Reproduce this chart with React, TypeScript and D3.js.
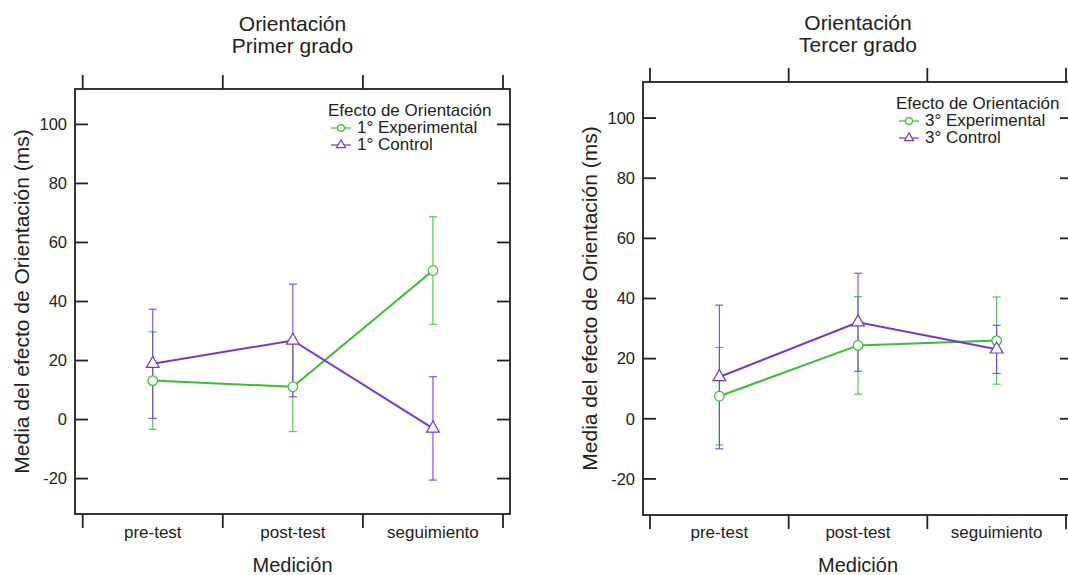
import React from "react";
import * as d3 from "d3";

const categories = ["pre-test", "post-test", "seguimiento"];
const yTicks = [-20, 0, 20, 40, 60, 80, 100];
const yDomain = [-32, 112];

const g1ExpMean = [13.2, 11.1, 50.5];
const g1ExpErr = [16.5, 15.2, 18.2];
const g1CtlMean = [18.9, 26.8, -3.0];
const g1CtlErr = [18.5, 19.1, 17.5];

const g3ExpMean = [7.5, 24.4, 26.0];
const g3ExpErr = [16.2, 16.2, 14.5];
const g3CtlMean = [13.9, 32.1, 23.1];
const g3CtlErr = [23.9, 16.3, 8.0];

const GREEN = "#3dbd35";
const PURPLE = "#7438d4";
const FONT = "'Liberation Sans', Arial, Helvetica, sans-serif";
const INK = "#222";

type Series = { name: string; mean: number[]; err: number[]; color: string; shape: "circle" | "triangle" };

type PanelProps = {
  left: number; right: number; top: number; bottom: number;
  bandStart: number; bandEnd: number;
  title1: string; title2: string; titleY: number;
  yLabelX: number;
  series: Series[];
  legendX: number; legendY: number;
};

function Marker({ shape, x, y, color, size }: { shape: string; x: number; y: number; color: string; size: number }) {
  if (shape === "circle") {
    return <circle cx={x} cy={y} r={Math.sqrt(size / Math.PI)} fill="#fff" stroke={color} strokeWidth={1.2} />;
  }
  const p = d3.symbol().type(d3.symbolTriangle).size(size)();
  return <path d={p || ""} transform={`translate(${x},${y})`} fill="#fff" stroke={color} strokeWidth={1.2} />;
}

function Panel(props: PanelProps) {
  const { left, right, top, bottom, bandStart, bandEnd, series } = props;
  const x = d3.scaleBand<string>().domain(categories).range([bandStart, bandEnd]).padding(0);
  const y = d3.scaleLinear().domain(yDomain).range([bottom, top]);
  const cx = (c: string) => (x(c) as number) + x.bandwidth() / 2;
  const bandEdges = [...categories.map((c) => x(c) as number), bandEnd];
  const line = d3.line<number>().x((_, i) => cx(categories[i])).y((d) => y(d));
  const midX = (left + right) / 2;
  const midY = (top + bottom) / 2;
  const tickLen = 13;
  return (
    <g fontFamily={FONT}>
      {/* titles */}
      <text x={midX} y={props.titleY} textAnchor="middle" fontSize={21} fill={INK}>{props.title1}</text>
      <text x={midX} y={props.titleY + 22} textAnchor="middle" fontSize={21} fill={INK}>{props.title2}</text>
      {/* frame */}
      <rect x={left} y={top} width={right - left} height={bottom - top} fill="none" stroke={INK} strokeWidth={1.8} />
      {/* y ticks */}
      {yTicks.map((t) => (
        <g key={t}>
          <line x1={left} x2={left + tickLen} y1={y(t)} y2={y(t)} stroke={INK} strokeWidth={1.8} />
          <line x1={right - tickLen} x2={right} y1={y(t)} y2={y(t)} stroke={INK} strokeWidth={1.8} />
          <text x={left - 8} y={y(t)} dy="0.35em" textAnchor="end" fontSize={16.5} fill={INK}>{t}</text>
        </g>
      ))}
      {/* x ticks top & bottom */}
      {bandEdges.map((e, i) => (
        <g key={i}>
          <line x1={e} x2={e} y1={top} y2={top - 14} stroke={INK} strokeWidth={1.8} />
          <line x1={e} x2={e} y1={bottom} y2={bottom + 14} stroke={INK} strokeWidth={1.8} />
        </g>
      ))}
      {categories.map((c) => (
        <text key={c} x={cx(c)} y={538} textAnchor="middle" fontSize={17} fill={INK}>{c}</text>
      ))}
      <text x={midX} y={572} textAnchor="middle" fontSize={20} fill={INK}>Medición</text>
      <text transform={`translate(${props.yLabelX},${midY}) rotate(-90)`} textAnchor="middle" fontSize={21} fill={INK}>
        Media del efecto de Orientación (ms)
      </text>
      {/* error bars */}
      {series.map((s) => (
        <g key={s.name + "err"}>
          {s.mean.map((m, i) => {
            const xx = cx(categories[i]);
            const y1 = y(m + s.err[i]);
            const y2 = y(m - s.err[i]);
            return (
              <g key={i} stroke={s.color} strokeWidth={1}>
                <line x1={xx} x2={xx} y1={y1} y2={y2} />
                <line x1={xx - 4} x2={xx + 4} y1={y1} y2={y1} />
                <line x1={xx - 4} x2={xx + 4} y1={y2} y2={y2} />
              </g>
            );
          })}
        </g>
      ))}
      {/* lines */}
      {series.map((s) => (
        <path key={s.name + "line"} d={line(s.mean) || ""} fill="none" stroke={s.color} strokeWidth={2} />
      ))}
      {/* markers */}
      {series.map((s) => (
        <g key={s.name + "mk"}>
          {s.mean.map((m, i) => (
            <Marker key={i} shape={s.shape} x={cx(categories[i])} y={y(m)} color={s.color} size={s.shape === "circle" ? 72 : 70} />
          ))}
        </g>
      ))}
      {/* legend */}
      <g>
        <text x={props.legendX} y={props.legendY} fontSize={17} fill={INK}>Efecto de Orientación</text>
        {series.map((s, i) => {
          const ly = props.legendY + 17 * (i + 1);
          const my = ly - 5;
          return (
            <g key={s.name + "lg"}>
              <line x1={props.legendX + 3} x2={props.legendX + 23} y1={my} y2={my} stroke={s.color} strokeWidth={1.2} />
              <Marker shape={s.shape} x={props.legendX + 13} y={my} color={s.color} size={s.shape === "circle" ? 36 : 34} />
              <text x={props.legendX + 29} y={ly} fontSize={17} fill={INK}>{s.name}</text>
            </g>
          );
        })}
      </g>
    </g>
  );
}

export default function App() {
  const s1: Series[] = [
    { name: "1° Experimental", mean: g1ExpMean, err: g1ExpErr, color: GREEN, shape: "circle" },
    { name: "1° Control", mean: g1CtlMean, err: g1CtlErr, color: PURPLE, shape: "triangle" },
  ];
  const s3: Series[] = [
    { name: "3° Experimental", mean: g3ExpMean, err: g3ExpErr, color: GREEN, shape: "circle" },
    { name: "3° Control", mean: g3CtlMean, err: g3CtlErr, color: PURPLE, shape: "triangle" },
  ];
  return (
    <svg width={1068} height={575} style={{ position: "absolute", left: 0, top: 0, background: "#fff" }}>
      <rect width={1068} height={575} fill="#fff" />
      <Panel left={75} right={510} top={89} bottom={514} bandStart={82.7} bandEnd={503}
        title1="Orientación" title2="Primer grado" titleY={31} yLabelX={29}
        series={s1} legendX={328} legendY={116} />
      <Panel left={643} right={1073} top={82} bottom={515} bandStart={650} bandEnd={1066}
        title1="Orientación" title2="Tercer grado" titleY={30} yLabelX={597}
        series={s3} legendX={896} legendY={109} />
    </svg>
  );
}
